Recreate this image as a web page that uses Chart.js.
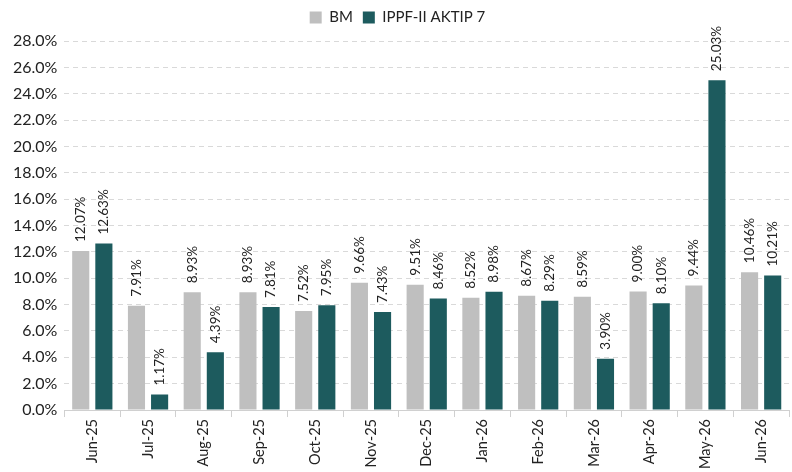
<!DOCTYPE html>
<html>
<head>
<meta charset="utf-8">
<script src="https://cdn.jsdelivr.net/npm/chart.js@4"></script>
<style>
  html, body { margin: 0; padding: 0; background: #fff; }
  #wrap { width: 792px; height: 472px; }
</style>
</head>
<body>
<div id="wrap"><canvas id="myChart"></canvas></div>
<script>
// DATOS
const meses = ["Jun-25", "Jul-25", "Aug-25", "Sep-25", "Oct-25", "Nov-25", "Dec-25", "Jan-26", "Feb-26", "Mar-26", "Apr-26", "May-26", "Jun-26"];
const bm = [12.07, 7.91, 8.93, 8.93, 7.52, 9.66, 9.51, 8.52, 8.67, 8.59, 9.00, 9.44, 10.46];
const fondo = [12.63, 1.17, 4.39, 7.81, 7.95, 7.43, 8.46, 8.98, 8.29, 3.90, 8.10, 25.03, 10.21];
const yMax = 28;
const yStep = 2;

const fuente = "Lato, 'Open Sans', sans-serif";

// etiquetas verticales encima de cada barra
const etiquetas = {
  id: "etiquetas",
  afterDatasetsDraw(chart) {
    const ctx = chart.ctx;
    ctx.save();
    ctx.font = "13.5px " + fuente;
    ctx.fillStyle = "#222";
    ctx.textAlign = "left";
    ctx.textBaseline = "middle";
    chart.data.datasets.forEach((ds, i) => {
      chart.getDatasetMeta(i).data.forEach((bar, j) => {
        ctx.save();
        ctx.translate(bar.x, bar.y - 9);
        ctx.rotate(-Math.PI / 2);
        ctx.fillText(ds.data[j].toFixed(2) + "%", 0, 0);
        ctx.restore();
      });
    });
    ctx.restore();
  },
};

// un poco mas de espacio bajo la leyenda
const margenLeyenda = {
  id: "margenLeyenda",
  beforeInit(chart) {
    const fit = chart.legend.fit;
    chart.legend.fit = function () {
      fit.bind(chart.legend)();
      this.height += 6;
    };
  },
};

new Chart(document.getElementById("myChart"), {
  type: "bar",
  data: {
    labels: meses,
    datasets: [
      {
        label: "BM",
        data: bm,
        backgroundColor: "#BFBFBF",
        categoryPercentage: 0.83,
        barPercentage: 0.74,
      },
      {
        label: "IPPF-II AKTIP 7",
        data: fondo,
        backgroundColor: "#1D5B5E",
        categoryPercentage: 0.83,
        barPercentage: 0.74,
      },
    ],
  },
  options: {
    responsive: true,
    maintainAspectRatio: false,
    animation: false,
    layout: { padding: { left: 6, right: 3, top: 0, bottom: 1 } },
    plugins: {
      legend: {
        position: "top",
        labels: {
          boxWidth: 12,
          boxHeight: 12,
          padding: 10,
          color: "#222",
          font: { family: fuente, size: 15 },
        },
      },
      tooltip: { enabled: false },
    },
    scales: {
      x: {
        grid: {
          display: true,
          drawOnChartArea: false,
          offset: true,
          tickLength: 7,
          color: "#d0d0d0",
        },
        border: { color: "#d0d0d0" },
        ticks: {
          minRotation: 90,
          maxRotation: 90,
          color: "#222",
          font: { family: fuente, size: 14.5 },
          padding: 2,
        },
      },
      y: {
        min: 0,
        max: yMax,
        ticks: {
          stepSize: yStep,
          color: "#222",
          font: { family: fuente, size: 16 },
          padding: 7,
          callback: (v) => v.toFixed(1) + "%",
        },
        grid: {
          color: "#d9d9d9",
          drawTicks: false,
        },
        border: { display: false, dash: [5, 4] },
      },
    },
  },
  plugins: [etiquetas, margenLeyenda],
});
</script>
</body>
</html>
